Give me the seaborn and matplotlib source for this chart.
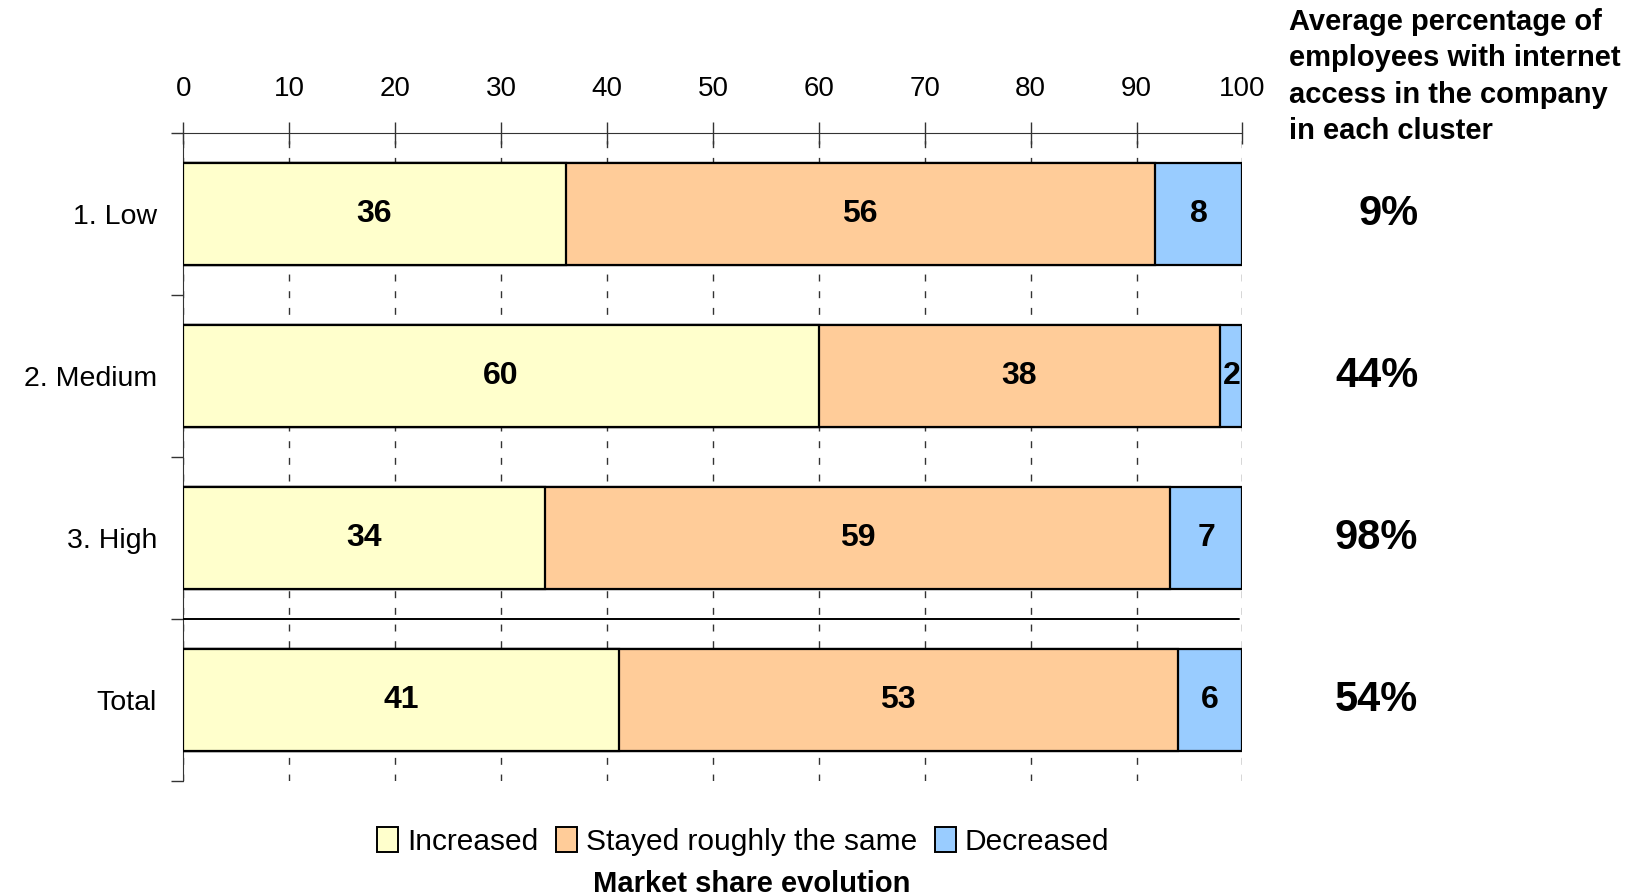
import numpy as np
import pandas as pd
import matplotlib
matplotlib.use("Agg")
import matplotlib.pyplot as plt
import seaborn as sns
from matplotlib.patches import Patch

# Data
clusters = ["1. Low", "2. Medium", "3. High", "Total"]
increased = [36.1, 60.0, 34.1, 41.1]
stayed = [55.6, 37.9, 59.1, 52.8]
decreased = [8.3, 2.1, 6.8, 6.1]
internet_pct = ["9%", "44%", "98%", "54%"]

series_names = ["Increased", "Stayed roughly the same", "Decreased"]
colors = ["#FFFFCC", "#FFCC99", "#99CCFF"]

sns.set_style("white")
plt.rcParams['font.family'] = ['Liberation Sans', 'DejaVu Sans']
plt.rcParams['text.color'] = 'black'
plt.rcParams['xtick.color'] = 'black'
plt.rcParams['ytick.color'] = 'black'

df = pd.DataFrame({"cluster": clusters, "inc": increased,
                   "sta": stayed, "dec": decreased})
df["c1"] = df["inc"]
df["c2"] = df["inc"] + df["sta"]
df["c3"] = df["c2"] + df["dec"]

fig = plt.figure(figsize=(16.37, 8.96), dpi=100)
ax = fig.add_axes([0.112, 0.128, 0.647, 0.724])

# stacked bars drawn as overlapping cumulative bars
for col, c in zip(["c3", "c2", "c1"], colors[::-1]):
    sns.barplot(data=df, x=col, y="cluster", color=c, width=0.63,
                edgecolor="black", linewidth=1.6, saturation=1, ax=ax, zorder=3)

# segment labels
for i in range(len(clusters)):
    lefts = [0, increased[i], increased[i] + stayed[i]]
    vals = [increased[i], stayed[i], decreased[i]]
    for l, v in zip(lefts, vals):
        ax.text(l + v / 2, i, f"{round(v):d}", ha="center", va="center",
                fontsize=23, fontweight="bold", zorder=5)
    ax.text(116.6, i, internet_pct[i], ha="right", va="center",
            fontsize=30, fontweight="bold", clip_on=False)

ax.set_xlim(0, 100)
ax.set_ylim(3.5, -0.5)
ax.set_xticks(np.arange(0, 101, 10))
ax.xaxis.tick_top()
ax.tick_params(axis="x", direction="inout", length=16, width=1, colors="#333333",
               labelsize=20, labelcolor="black", pad=14)
ax.set_xlabel("")
ax.set_ylabel("")

ax.set_yticks(range(len(clusters)))
ax.set_yticklabels(clusters)
ax.tick_params(axis="y", length=0, labelsize=20.5, pad=19, labelcolor="black")
ax.set_yticks(np.arange(-0.5, 4, 1), minor=True)
ax.tick_params(axis="y", which="minor", left=True, length=9, width=1,
               direction="out", colors="#333333")

ax.grid(axis="x", color="#333333", linestyle=(0, (5, 7)), linewidth=1, zorder=0)
ax.set_axisbelow(True)

for s in ["right", "bottom"]:
    ax.spines[s].set_visible(False)
ax.spines["top"].set_color("#333333")
ax.spines["left"].set_color("#333333")

ax.axhline(2.5, xmin=0, xmax=0.997, color="black", linewidth=1.4, zorder=4)

fig.text(1289 / 1637, 1 - 8 / 896,
         "Average percentage of\nemployees with internet\naccess in the company\nin each cluster",
         ha="left", va="top", fontsize=21, fontweight="bold", linespacing=1.38)

handles = [Patch(facecolor=c, edgecolor="black", linewidth=1.4) for c in colors]
fig.legend(handles, series_names, loc="center", bbox_to_anchor=(0.454, 0.061),
           ncol=3, frameon=False, fontsize=21.5, handlelength=0.7, handleheight=0.9,
           handletextpad=0.3, columnspacing=0.6)
fig.text(0.459, 0.013, "Market share evolution", ha="center", va="center",
         fontsize=21, fontweight="bold")

fig.savefig("out.png", dpi=100)
